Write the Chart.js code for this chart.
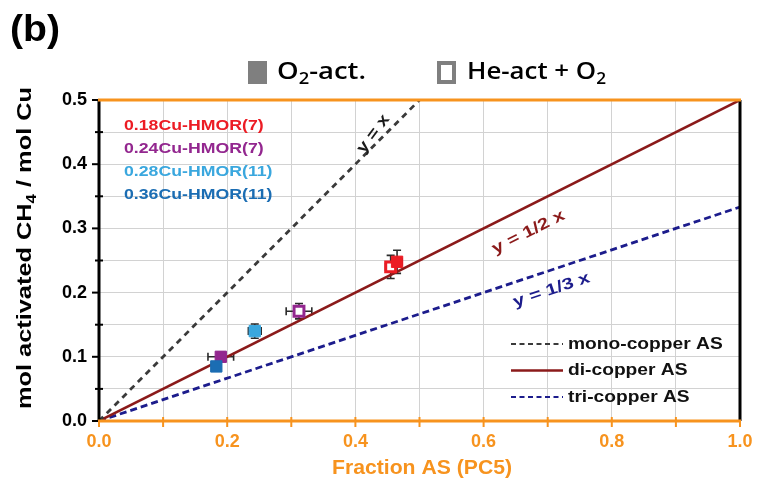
<!DOCTYPE html>
<html>
<head>
<meta charset="utf-8">
<script src="https://cdn.jsdelivr.net/npm/chart.js@4.4.1/dist/chart.umd.min.js"></script>
<style>
  html, body { margin: 0; padding: 0; background: #fff; }
  #wrap { width: 758px; height: 484px; position: relative; }
</style>
</head>
<body>
<div id="wrap"><canvas id="c" width="758" height="484"></canvas></div>
<script>
// Catalyst samples and their colours
const samples = ['0.18Cu-HMOR(7)', '0.24Cu-HMOR(7)', '0.28Cu-HMOR(11)', '0.36Cu-HMOR(11)'];
const sampleColors = ['#ec1c24', '#93278f', '#3aa7de', '#1b6db3'];

// O2-activated samples (filled squares), one per catalyst
const o2X    = [0.465, 0.190, 0.243, 0.183];
const o2Y    = [0.248, 0.100, 0.140, 0.085];
const o2XErr = [0.008, 0.020, 0.010, 0.006];
const o2YErr = [0.018, 0.007, 0.011, 0.006];

// He-activated + O2 samples (open squares)
const heSample = [0, 1];
const heX    = [0.455, 0.312];
const heY    = [0.240, 0.171];
const heXErr = [0.008, 0.020];
const heYErr = [0.018, 0.012];

// Active-site reference lines y = k x
const siteNames  = ['mono-copper AS', 'di-copper AS', 'tri-copper AS'];
const siteSlopes = [1, 1 / 2, 1 / 3];
const siteXEnd   = [0.5, 1, 1];
const siteColors = ['#3a3a3a', '#8b1a1a', '#1c1c8c'];
const siteDash   = [[6, 5], [], [7, 4]];
const siteLabels = ['y = x', 'y = 1/2 x', 'y = 1/3 x'];
const siteLabelX = [0.428, 0.670, 0.706];
const siteLabelY = [0.447, 0.294, 0.204];

const ORANGE = '#f7931e';
const FONT = "'Liberation Sans', Arial, sans-serif";

// Draws a run of text pieces (with optional subscripts), optionally stretched horizontally
function richText(ctx, segs, x, y, o) {
  ctx.save();
  ctx.translate(x, y);
  if (o.rot) ctx.rotate(o.rot);
  const fam = o.family || FONT;
  const main = `${o.weight || 'bold'} ${o.size}px ${fam}`;
  const sub = `${o.weight || 'bold'} ${Math.round(o.size * 0.68)}px ${fam}`;
  let w = 0;
  const parts = segs.map(s => (typeof s === 'string' ? { t: s } : s));
  parts.forEach(s => { ctx.font = s.sub ? sub : main; s.w = ctx.measureText(s.t).width; w += s.w; });
  const k = o.width ? o.width / w : (o.stretch || 1);
  ctx.scale(k, 1);
  let cx = o.align === 'center' ? -w / 2 : (o.align === 'right' ? -w : 0);
  ctx.fillStyle = o.color || '#000';
  ctx.textBaseline = 'middle';
  ctx.textAlign = 'left';
  parts.forEach(s => {
    ctx.font = s.sub ? sub : main;
    ctx.fillText(s.t, cx, s.sub ? o.size * 0.32 : 0);
    cx += s.w;
  });
  ctx.restore();
}

const lineSets = siteNames.map((name, i) => ({
  label: name,
  data: [{ x: 0, y: 0 }, { x: siteXEnd[i], y: siteSlopes[i] * siteXEnd[i] }],
  showLine: true,
  borderColor: siteColors[i],
  borderWidth: i === 1 ? 2.5 : 2.8,
  borderDash: siteDash[i],
  pointRadius: 0,
  order: 3
}));

const filledSet = {
  label: 'O2-act.',
  data: o2X.map((x, i) => ({ x, y: o2Y[i] })),
  pointStyle: 'rect',
  pointRadius: 8,
  backgroundColor: sampleColors,
  borderColor: sampleColors,
  borderWidth: 1,
  showLine: false,
  order: 1
};

const openSet = {
  label: 'He-act + O2',
  data: heX.map((x, i) => ({ x, y: heY[i] })),
  pointStyle: 'rect',
  pointRadius: 7,
  backgroundColor: '#ffffff',
  borderColor: heSample.map(i => sampleColors[i]),
  borderWidth: 3,
  showLine: false,
  order: 2
};

// Error bars, drawn under the markers
const errorBars = {
  id: 'errorBars',
  beforeDatasetsDraw(chart) {
    const { ctx, scales: { x, y } } = chart;
    ctx.save();
    ctx.strokeStyle = '#2a2a2a';
    ctx.lineWidth = 1.6;
    const cap = 4;
    const bar = (vx, vy, ex, ey) => {
      const px = x.getPixelForValue(vx), py = y.getPixelForValue(vy);
      const x0 = x.getPixelForValue(vx - ex), x1 = x.getPixelForValue(vx + ex);
      const y0 = y.getPixelForValue(vy - ey), y1 = y.getPixelForValue(vy + ey);
      ctx.beginPath();
      ctx.moveTo(x0, py); ctx.lineTo(x1, py);
      ctx.moveTo(x0, py - cap); ctx.lineTo(x0, py + cap);
      ctx.moveTo(x1, py - cap); ctx.lineTo(x1, py + cap);
      ctx.moveTo(px, y0); ctx.lineTo(px, y1);
      ctx.moveTo(px - cap, y0); ctx.lineTo(px + cap, y0);
      ctx.moveTo(px - cap, y1); ctx.lineTo(px + cap, y1);
      ctx.stroke();
    };
    o2X.forEach((v, i) => bar(v, o2Y[i], o2XErr[i], o2YErr[i]));
    heX.forEach((v, i) => bar(v, heY[i], heXErr[i], heYErr[i]));
    ctx.restore();
  }
};

// Frame, tick marks, titles, annotations and legends
const decorations = {
  id: 'decorations',
  afterDraw(chart) {
    const { ctx, chartArea: a, scales: { x, y } } = chart;
    ctx.save();
    ctx.lineCap = 'butt';

    // x tick marks (orange) every 0.1
    ctx.strokeStyle = ORANGE;
    ctx.lineWidth = 2;
    x.ticks.forEach(t => {
      const px = x.getPixelForValue(t.value);
      ctx.beginPath(); ctx.moveTo(px, a.bottom - 4); ctx.lineTo(px, a.bottom + 6); ctx.stroke();
    });
    // y tick marks (black): major every 0.1, minor in between
    ctx.strokeStyle = '#000';
    y.ticks.forEach(t => {
      const py = y.getPixelForValue(t.value);
      const major = Math.round(t.value * 100) % 10 === 0;
      ctx.beginPath();
      if (major) { ctx.moveTo(a.left - 7, py); ctx.lineTo(a.left + 1, py); }
      else { ctx.moveTo(a.left - 4, py); ctx.lineTo(a.left + 4, py); }
      ctx.stroke();
    });

    // frame
    ctx.lineWidth = 3;
    ctx.strokeStyle = '#000';
    ctx.beginPath(); ctx.moveTo(a.left, a.top); ctx.lineTo(a.left, a.bottom); ctx.stroke();
    ctx.beginPath(); ctx.moveTo(a.right, a.top); ctx.lineTo(a.right, a.bottom); ctx.stroke();
    ctx.strokeStyle = ORANGE;
    ctx.beginPath(); ctx.moveTo(a.left - 1, a.top); ctx.lineTo(a.right + 1, a.top); ctx.stroke();
    ctx.beginPath(); ctx.moveTo(a.left - 1, a.bottom); ctx.lineTo(a.right + 1, a.bottom); ctx.stroke();

    // panel letter
    richText(ctx, ['(b)'], 10, 31, { size: 37, width: 50 });

    // top legend
    ctx.fillStyle = '#7f7f7f';
    ctx.fillRect(248, 61, 19, 23);
    ctx.fillRect(437, 61, 19, 23);
    ctx.fillStyle = '#fff';
    ctx.fillRect(441, 65, 11, 15);
    const lf = "'Open Sans', sans-serif";
    richText(ctx, ['O', { t: '2', sub: true }, '-act.'], 277, 72, { size: 24, weight: '600', family: lf, width: 89 });
    richText(ctx, ['He-act + O', { t: '2', sub: true }], 467, 72, { size: 24, weight: '600', family: lf, width: 139 });

    // axis titles
    richText(ctx, ['mol activated CH', { t: '4', sub: true }, ' / mol Cu'], 25, 248,
      { size: 21, rot: -Math.PI / 2, align: 'center', width: 322 });
    richText(ctx, ['Fraction AS (PC5)'], 422, 468, { size: 20, align: 'center', width: 180, color: ORANGE });

    // sample labels
    samples.forEach((s, i) => {
      richText(ctx, [s], 124, 126 + i * 23, { size: 15, stretch: 1.18, color: sampleColors[i] });
    });

    // line annotations
    const rots = siteSlopes.map(k => -Math.atan(k * (y.getPixelForValue(0) - y.getPixelForValue(1)) /
      (x.getPixelForValue(1) - x.getPixelForValue(0))));
    rots[0] = -0.93;
    const widths = [44, 79, 80];
    siteLabels.forEach((s, i) => {
      richText(ctx, [s], x.getPixelForValue(siteLabelX[i]), y.getPixelForValue(siteLabelY[i]),
        { size: 16, rot: rots[i], align: 'center', width: widths[i], color: i === 0 ? '#1a1a1a' : siteColors[i] });
    });

    // line legend
    siteNames.forEach((s, i) => {
      const ly = 344 + i * 26.5;
      ctx.save();
      ctx.strokeStyle = siteColors[i];
      ctx.lineWidth = i === 1 ? 2.5 : 2;
      ctx.setLineDash(i === 1 ? [] : [5, 3.5]);
      ctx.beginPath(); ctx.moveTo(511, ly); ctx.lineTo(563, ly); ctx.stroke();
      ctx.restore();
      richText(ctx, [s], 568, ly, { size: 17, stretch: 1.13, color: '#111' });
    });

    ctx.restore();
  }
};

const isMultiple = (v, step) => Math.abs(Math.round(v * 100) % Math.round(step * 100)) === 0;

new Chart(document.getElementById('c'), {
  type: 'scatter',
  data: { datasets: [...lineSets, openSet, filledSet] },
  options: {
    responsive: false,
    animation: false,
    layout: { padding: { top: 100, right: 18, left: 0, bottom: 0 } },
    plugins: { legend: { display: false }, tooltip: { enabled: false } },
    scales: {
      x: {
        type: 'linear', min: 0, max: 1,
        afterFit(s) { s.height = 63; s.paddingLeft = 0; s.paddingRight = 0; },
        border: { display: false },
        grid: { color: '#d2d2d2', lineWidth: 1, drawTicks: false },
        ticks: {
          stepSize: 0.1, autoSkip: false, maxRotation: 0, padding: 10,
          color: ORANGE, font: { family: FONT, size: 18, weight: 'bold' },
          callback: v => (isMultiple(v, 0.2) ? v.toFixed(1) : '')
        }
      },
      y: {
        type: 'linear', min: 0, max: 0.5,
        afterFit(s) { s.width = 99; s.paddingTop = 0; s.paddingBottom = 0; },
        border: { display: false },
        grid: { color: '#d2d2d2', lineWidth: 1, drawTicks: false },
        ticks: {
          stepSize: 0.05, autoSkip: false, padding: 12,
          color: '#000', font: { family: FONT, size: 18, weight: 'bold' },
          callback: v => (isMultiple(v, 0.1) ? v.toFixed(1) : '')
        }
      }
    }
  },
  plugins: [errorBars, decorations]
});
</script>
</body>
</html>
